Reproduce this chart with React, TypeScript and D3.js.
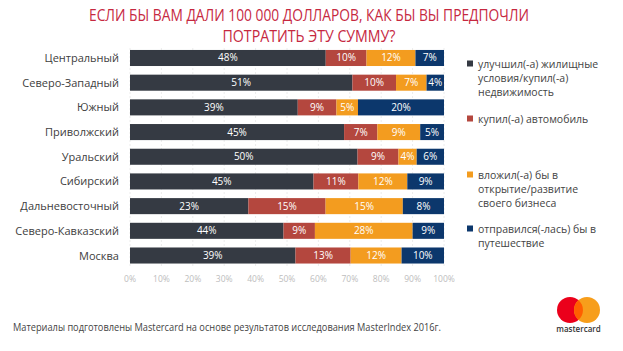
import * as d3 from 'd3'

const regions = [
  'Центральный',
  'Северо-Западный',
  'Южный',
  'Приволжский',
  'Уральский',
  'Сибирский',
  'Дальневосточный',
  'Северо-Кавказский',
  'Москва',
]
const housing = [48, 51, 39, 45, 50, 45, 23, 44, 39]
const car = [10, 10, 9, 7, 9, 11, 15, 9, 13]
const business = [12, 7, 5, 9, 4, 12, 15, 28, 12]
const travel = [7, 4, 20, 5, 6, 9, 8, 9, 10]

const keys = ['housing', 'car', 'business', 'travel']
const colors = ['#353a43', '#b4473e', '#f39c1f', '#0c376c']
const legendLines = [
  ['улучшил(-а) жилищные', 'условия/купил(-а)', 'недвижимость'],
  ['купил(-а) автомобиль'],
  ['вложил(-а) бы в', 'открытие/развитие', 'своего бизнеса'],
  ['отправился(-лась) бы в', 'путешествие'],
]
const legendY = [64, 119, 175, 229]
const tickValues = [0, 0.1, 0.2, 0.3, 0.4, 0.5, 0.6, 0.7, 0.8, 0.9, 1]

const rows = regions.map((region, i) => ({
  region,
  housing: housing[i],
  car: car[i],
  business: business[i],
  travel: travel[i],
}))

const W = 623
const H = 351
const font = '"Open Sans", sans-serif'

export default function App() {
  const x = d3.scaleLinear().domain([0, 1]).range([130, 444])
  // bars ~16px tall on a ~24.7px step
  const y = d3.scaleBand().domain(regions).range([47.5, 266]).paddingInner(0.35).paddingOuter(0.1)
  const series = d3.stack().keys(keys).offset(d3.stackOffsetExpand)(rows as any)
  const fmt = d3.format('.0%')

  return (
    <svg width={W} height={H} style={{ position: 'absolute', left: 0, top: 0, background: '#fff' }} fontFamily={font}>
      <text x={309} y={21} textAnchor="middle" fill="#c6283f" fontSize={16} textLength={440} lengthAdjust="spacingAndGlyphs">
        ЕСЛИ БЫ ВАМ ДАЛИ 100 000 ДОЛЛАРОВ, КАК БЫ ВЫ ПРЕДПОЧЛИ
      </text>
      <text x={309} y={42} textAnchor="middle" fill="#c6283f" fontSize={16} textLength={173} lengthAdjust="spacingAndGlyphs">
        ПОТРАТИТЬ ЭТУ СУММУ?
      </text>

      <g>
        {tickValues.map(t => (
          <line key={t} x1={x(t)} x2={x(t)} y1={48} y2={268} stroke="#ececec" strokeDasharray="2,2" />
        ))}
      </g>

      {series.map((s, si) => (
        <g key={s.key} fill={colors[si]}>
          {s.map((d, i) => (
            <rect key={i} x={x(d[0])} y={y(regions[i])} width={x(d[1]) - x(d[0])} height={y.bandwidth()} />
          ))}
        </g>
      ))}

      {series.map(s => (
        <g key={s.key + 'l'}>
          {s.map((d, i) => (
            <text
              key={i}
              x={(x(d[0]) + x(d[1])) / 2}
              y={(y(regions[i]) as number) + y.bandwidth() / 2 + 3.5}
              textAnchor="middle"
              fill="#fff"
              fontSize={10}
            >
              {(rows[i] as any)[s.key]}%
            </text>
          ))}
        </g>
      ))}

      {regions.map(r => (
        <text key={r} x={119} y={(y(r) as number) + y.bandwidth() / 2 + 4} textAnchor="end" fill="#404040" fontSize={11}>
          {r}
        </text>
      ))}

      {tickValues.map(t => (
        <text key={t} x={x(t)} y={282} textAnchor="middle" fill="#bdbdbd" fontSize={8.5}>
          {fmt(t)}
        </text>
      ))}

      {legendLines.map((lines, i) => (
        <g key={i}>
          <rect x={467} y={legendY[i] - 3.5} width={6} height={6} fill={colors[i]} />
          {lines.map((l, j) => (
            <text key={j} x={478} y={legendY[i] + 4 + j * 14} fill="#444" fontSize={10.5}>
              {l}
            </text>
          ))}
        </g>
      ))}

      <text x={13} y={331} fill="#444" fontSize={10} textLength={428} lengthAdjust="spacingAndGlyphs">
        Материалы подготовлены Mastercard на основе результатов исследования MasterIndex 2016г.
      </text>

      <g>
        <circle cx={570} cy={310} r={13} fill="#eb001b" />
        <circle cx={587} cy={310} r={13} fill="#f79e1b" />
        <path
          d={`M 578.5 300.2 A 13 13 0 0 1 578.5 319.8 A 13 13 0 0 1 578.5 300.2 Z`}
          fill="#ff5f00"
        />
        <text x={578.5} y={332} textAnchor="middle" fill="#333" fontSize={8} fontWeight={600}>
          mastercard
        </text>
      </g>
    </svg>
  )
}
